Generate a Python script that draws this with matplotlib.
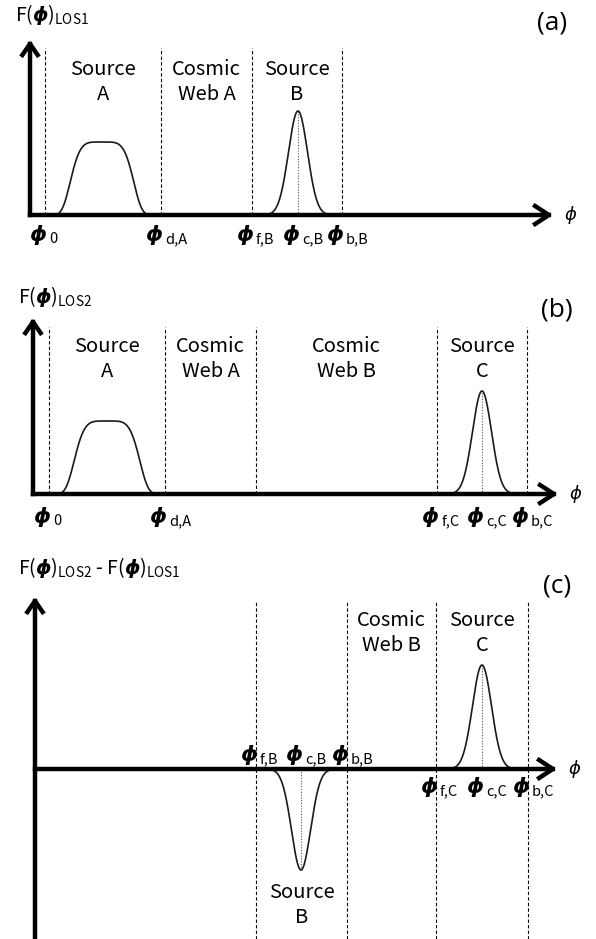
import numpy as np
import matplotlib
matplotlib.use('Agg')
from matplotlib import pyplot as plt
from matplotlib.patches import FancyArrowPatch

plt.rcParams['font.family'] = ['Noto Sans CJK JP', 'DejaVu Sans']
plt.rcParams['mathtext.fontset'] = 'custom'
plt.rcParams['mathtext.rm'] = 'Noto Sans CJK JP'
plt.rcParams['mathtext.bf'] = 'DejaVu Sans:bold:italic'
plt.rcParams['mathtext.it'] = 'DejaVu Sans:italic'

# panel (a): F(phi) along LOS1
a_edges = [45, 161, 252, 342]
a_edge_names = ['0', 'd,A', 'f,B', 'b,B']
a_regions = ['Source\nA', 'Cosmic\nWeb A', 'Source\nB']
a_flat = [102, 29, 73]          # centre, half width, height of extended source A
a_peaks = [[298, 9.5, 104]]     # centre, sigma, height
a_peak_names = ['c,B']

# panel (b): F(phi) along LOS2
b_edges = [49, 165, 256, 437, 527]
b_edge_names = ['0', 'd,A', None, 'f,C', 'b,C']
b_regions = ['Source\nA', 'Cosmic\nWeb A', 'Cosmic\nWeb B', 'Source\nC']
b_flat = [107, 30, 73]
b_peaks = [[482, 9.5, 103]]
b_peak_names = ['c,C']

# panel (c): difference LOS2 - LOS1
c_edges = [256, 347, 436, 528]
c_edge_names = ['f,B', 'b,B', 'f,C', 'b,C']
c_peaks = [[301, 9.5, -101], [482, 9.5, 104]]
c_peak_names = ['c,B', 'c,C']

W, H = 596, 939
fig = plt.figure(figsize=(W / 100, H / 100), dpi=100)


def make_ax(top, bottom, base):
    ax = fig.add_axes([0, 1 - bottom / H, 1, (bottom - top) / H])
    ax.set_xlim(0, W)
    ax.set_ylim(base - bottom, base - top)
    ax.axis('off')
    return ax


def axes_arrows(ax, x0, xtip, ybot, ytip):
    ax.add_patch(FancyArrowPatch((x0, 0), (xtip, 0), arrowstyle='->,head_length=1.0,head_width=0.65',
                                 mutation_scale=10, lw=3.2, color='black', capstyle='projecting',
                                 shrinkA=0, shrinkB=0, zorder=5))
    ax.add_patch(FancyArrowPatch((x0, ybot), (x0, ytip), arrowstyle='->,head_length=0.8,head_width=0.55',
                                 mutation_scale=10, lw=3.2, color='black', capstyle='projecting',
                                 shrinkA=0, shrinkB=0, zorder=5))
    ax.text(xtip + 18, 0, r'$\phi$', fontsize=13, ha='center', va='center')


def phi_label(ax, x, name, y):
    # bold phi glyph ending near the boundary, subscript just after it
    ax.text(x + 1, y, '\u03d5', fontsize=15.5, family='DejaVu Sans', weight='bold',
            style='oblique', ha='right', va='center')
    ax.text(x + 4, y - 4, name, fontsize=10.5, ha='left', va='center')


def flat_curve(ax, p):
    x = np.linspace(p[0] - 2.2 * p[1], p[0] + 2.2 * p[1], 400)
    ax.plot(x, p[2] * np.exp(-0.5 * np.abs((x - p[0]) / p[1]) ** 5),
            color='#1a1a1a', lw=1.2, zorder=3)


def peak_curve(ax, p):
    x = np.linspace(p[0] - 3.3 * p[1], p[0] + 3.3 * p[1], 400)
    ax.plot(x, p[2] * np.exp(-0.5 * ((x - p[0]) / p[1]) ** 2), color='#1a1a1a', lw=1.2, zorder=3)
    ax.plot([p[0], p[0]], [0, p[2]], color='#555555', lw=0.8, ls=(0, (1, 1.5)), zorder=2)


def region_labels(ax, edges, names, y):
    for i, name in enumerate(names):
        ax.text((edges[i] + edges[i + 1]) / 2, y, name, fontsize=14.5, ha='center', va='center',
                linespacing=1.2)


# ---- (a)
ax = make_ax(0, 262, 215)
for x in a_edges:
    ax.plot([x, x], [0, 167], color='black', lw=0.8, ls=(0, (3, 2)), zorder=1)
flat_curve(ax, a_flat)
for p in a_peaks:
    peak_curve(ax, p)
axes_arrows(ax, 30, 553, 0, 175)
region_labels(ax, a_edges, a_regions, 133)
for x, n in zip(a_edges, a_edge_names):
    phi_label(ax, x, n, -20)
for p, n in zip(a_peaks, a_peak_names):
    phi_label(ax, p[0], n, -20)
ax.text(15, 200, r'F($\mathbf{\phi}$)$_{\mathrm{LOS1}}$', fontsize=14, ha='left', va='center')
ax.text(552, 192, '(a)', fontsize=19, family='Open Sans', ha='center', va='center')

# ---- (b)
ax = make_ax(262, 548, 494)
for x in b_edges:
    ax.plot([x, x], [0, 167], color='black', lw=0.8, ls=(0, (3, 2)), zorder=1)
flat_curve(ax, b_flat)
for p in b_peaks:
    peak_curve(ax, p)
axes_arrows(ax, 33, 558, 0, 176)
region_labels(ax, b_edges, b_regions, 135)
for x, n in zip(b_edges, b_edge_names):
    if n:
        phi_label(ax, x, n, -23)
for p, n in zip(b_peaks, b_peak_names):
    phi_label(ax, p[0], n, -23)
ax.text(18, 197, r'F($\mathbf{\phi}$)$_{\mathrm{LOS2}}$', fontsize=14, ha='left', va='center')
ax.text(557, 184, '(b)', fontsize=19, family='Open Sans', ha='center', va='center')

# ---- (c)
ax = make_ax(548, 939, 769)
for x in c_edges:
    ax.plot([x, x], [-170, 167], color='black', lw=0.8, ls=(0, (3, 2)), zorder=1)
for p in c_peaks:
    peak_curve(ax, p)
axes_arrows(ax, 35, 557, -175, 172)
region_labels(ax, c_edges[1:], ['Cosmic\nWeb B', 'Source\nC'], 136)
region_labels(ax, c_edges[:2], ['Source\nB'], -136)
for x, n in zip(c_edges[:2], c_edge_names[:2]):
    phi_label(ax, x, n, 14)
phi_label(ax, c_peaks[0][0], c_peak_names[0], 14)
for x, n in zip(c_edges[2:], c_edge_names[2:]):
    phi_label(ax, x, n, -18)
phi_label(ax, c_peaks[1][0], c_peak_names[1], -18)
ax.text(18, 201, r'F($\mathbf{\phi}$)$_{\mathrm{LOS2}}$ - F($\mathbf{\phi}$)$_{\mathrm{LOS1}}$',
        fontsize=14, ha='left', va='center')
ax.text(557, 183, '(c)', fontsize=19, family='Open Sans', ha='center', va='center')

fig.savefig('out.png', dpi=100)
